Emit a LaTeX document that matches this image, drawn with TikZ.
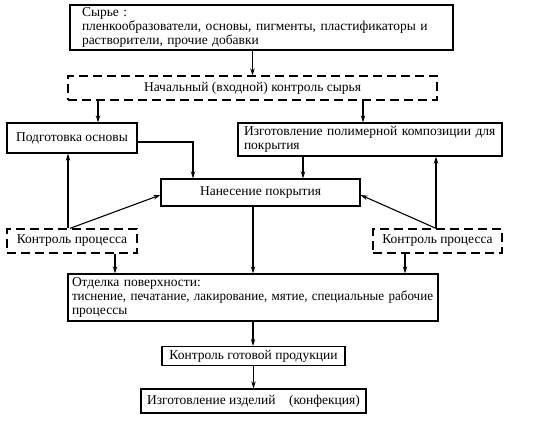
\documentclass[tikz,border=0pt]{standalone}
\usepackage{fontspec}
\usepackage{graphicx}
\setmainfont{Liberation Serif}
\usetikzlibrary{arrows.meta,calc}
\begin{document}
\begin{tikzpicture}[x=1pt,y=-1pt,
  font=\fontsize{13.5}{14}\selectfont,
  box/.style={draw,line width=1.3pt,inner ysep=1pt,inner xsep=0pt,align=center},
  lbox/.style={draw,line width=1.3pt,inner ysep=1pt,align=left},
  dbox/.style={box,dash pattern=on 9pt off 5pt},
  arr/.style={line width=1.1pt,-{Stealth[length=7pt,width=4.5pt]}}]
\useasboundingbox (0,0) rectangle (540,421);
\node[lbox,minimum width=383pt,minimum height=45pt,inner xsep=12pt,text width=359pt] (raw) at (261.5,27.5)
  {Сырье :\\пленкообразователи, основы, пигменты, пластификаторы и\\растворители, прочие добавки};
\node[dbox,minimum width=369pt,minimum height=24pt] (inctrl) at (252.5,88) {Начальный (входной) контроль сырья};
\node[box,minimum width=130pt,minimum height=30pt] (prep) at (72,138) {Подготовка основы};
\node[lbox,minimum width=264pt,minimum height=33pt,inner xsep=6pt,text width=252pt] (poly) at (370,139.5)
  {Изготовление полимерной композиции для\\покрытия};
\node[box,minimum width=199pt,minimum height=27pt] (apply) at (260.5,192.5) {Нанесение покрытия};
\node[dbox,minimum width=130pt,minimum height=24pt] (pc1) at (72,241) {Контроль процесса};
\node[dbox,minimum width=129pt,minimum height=24pt] (pc2) at (437.5,241) {Контроль процесса};
\node[lbox,minimum width=370pt,minimum height=47pt,inner xsep=4pt,text width=362pt] (finish) at (253,297.5)
  {Отделка поверхности:\\\resizebox{361pt}{\height}{тиснение, печатание, лакирование, мятие, специальные рабочие}\\процессы};
\node[box,minimum width=183pt,minimum height=19pt] (qc) at (253.5,356) {Контроль готовой продукции};
\node[box,minimum width=225pt,minimum height=24pt] (make) at (253.5,401) {Изготовление изделий\quad(конфекция)};
% connectors
\draw[arr] (raw.south -| inctrl.north) -- (inctrl.north);
\draw[arr] ([xshift=26pt]prep.north |- inctrl.south) -- ([xshift=26pt]prep.north);
\draw[arr] ([xshift=-7pt]poly.north |- inctrl.south) -- ([xshift=-7pt]poly.north);
\draw[arr] ([yshift=-4pt]prep.east) -| ([xshift=-67.5pt]apply.north);
\draw[arr] ([xshift=42.5pt]apply.north |- poly.south) -- ([xshift=42.5pt]apply.north);
\draw[arr] ([xshift=-4pt]pc1.north) -- ([xshift=-4pt]pc1.north |- prep.south);
\draw[arr] ([xshift=-2pt]pc1.north) -- ([yshift=-2.5pt]apply.west);
\draw[arr] ([xshift=-1.5pt]pc2.north) -- ([xshift=-1.5pt]pc2.north |- poly.south);
\draw[arr] ([xshift=-1.5pt]pc2.north) -- ([yshift=-2.5pt]apply.east);
\draw[arr] ([xshift=43pt]pc1.south) -- ([xshift=43pt]pc1.south |- finish.north);
\draw[arr] (apply.south -| finish.north) -- (finish.north);
\draw[arr] ([xshift=-32.5pt]pc2.south) -- ([xshift=-32.5pt]pc2.south |- finish.north);
\draw[arr] (finish.south) -- (finish.south |- qc.north);
\draw[arr] (qc.south) -- (make.north);
\end{tikzpicture}
\end{document}
